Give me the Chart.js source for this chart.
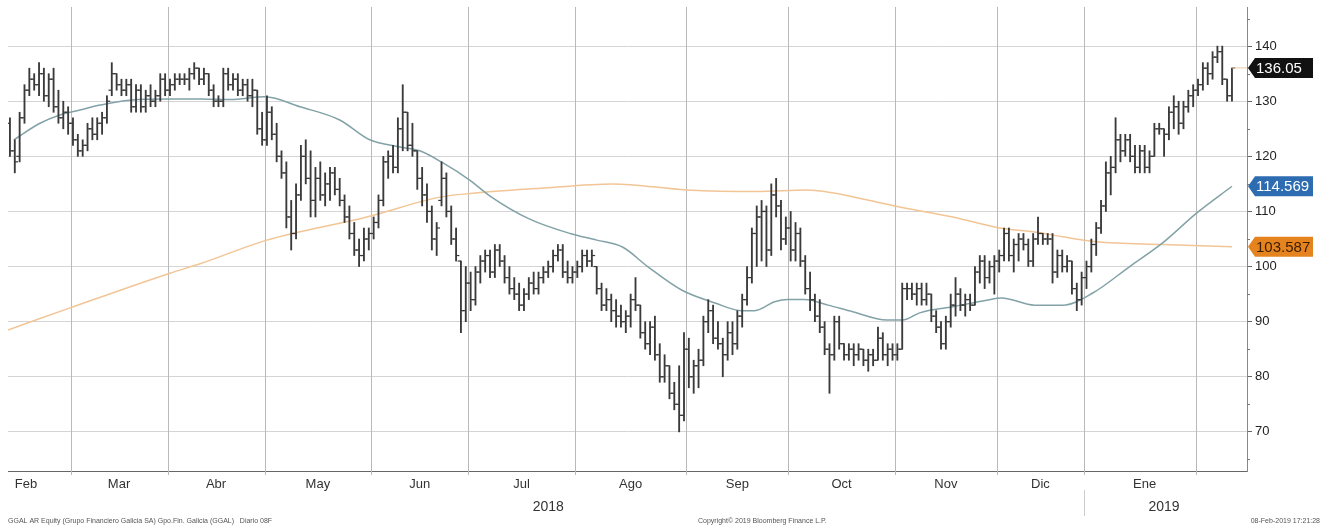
<!DOCTYPE html>
<html>
<head>
<meta charset="utf-8">
<script src="https://cdn.jsdelivr.net/npm/chart.js@4.4.1/dist/chart.umd.min.js"></script>
<style>
  html, body { margin: 0; padding: 0; background: #fff; }
  #wrap { width: 1324px; height: 532px; }
</style>
</head>
<body>
<div id="wrap"><canvas id="chart" width="1324" height="532"></canvas></div>
<script>
// daily OHLC, one row per month (Feb 2018 .. Feb 2019)
const opens = [
  126,121,120,127,132,134,133,135,131,134,129,127,128,
  126,123,121,122,125,124,126,127,132,135,133,132,133,129,132,129,131,130,131,134,
  132,133,134,134,134,135,136,134,135,132,130,130,135,133,134,132,133,131,132,125,
  123,128,124,120,117,109,106,113,120,116,112,116,113,115,117,114,112,109,106,103,102,105,
  106,108,112,119,120,118,125,128,122,121,116,113,110,105,112,116,110,105,101,92,
  97,94,99,101,102,99,103,101,98,96,95,93,95,97,96,98,99,100,102,103,99,98,
  99,100,102,101,100,96,93,94,92,91,90,91,94,93,88,86,89,84,80,82,77,75,73,
  85,80,82,83,90,92,87,86,84,88,86,91,94,98,106,109,110,103,113,111,105,
  107,103,106,101,96,94,91,89,85,84,90,86,84,85,84,85,83,84,83,87,84,85,
  84,85,96,96,95,96,94,95,91,89,86,90,93,95,93,94,93,99,101,98,100,
  101,102,106,102,104,105,104,101,105,106,105,105,99,102,100,101,96,94,
  98,100,104,107,111,117,118,123,121,123,120,118,121,118,120,125,125,124,128,129,126,129,131,
  132,133,136,135,138,139,134,131
];
const highs = [
  127,123,128,133,136,135,137,136,135,136,132,130,129,
  127,124,123,126,127,127,128,131,137,135,134,134,134,133,133,132,133,132,135,135,
  134,135,135,135,136,137,136,136,135,133,131,136,136,135,135,134,134,134,132,128,
  131,129,126,121,119,112,115,122,123,121,118,119,117,118,118,116,113,111,108,105,107,107,
  109,113,120,121,122,127,133,128,126,121,118,115,111,108,119,117,111,107,101,100,
  99,100,102,103,103,104,104,102,100,98,97,96,98,99,99,100,101,103,104,104,101,100,
  101,103,103,103,100,97,96,95,94,93,92,95,98,93,90,90,91,86,84,82,79,82,88,
  87,83,85,91,94,93,90,87,90,90,92,95,100,107,111,112,111,115,116,112,109,
  110,108,107,102,99,95,94,90,86,91,91,86,86,86,86,85,85,85,89,88,86,86,
  86,97,97,97,97,97,97,95,92,90,91,95,98,96,95,95,100,102,102,101,102,
  103,107,107,105,106,106,105,106,109,106,106,106,103,103,102,101,97,99,
  101,105,108,112,119,120,127,124,124,124,122,122,122,121,126,126,125,129,131,130,130,132,133,
  134,137,137,139,140,140,134,136
];
const lows = [
  120,117,119,126,131,132,131,130,129,128,126,125,124,
  122,120,120,121,123,123,124,126,131,132,131,131,128,128,128,128,129,129,130,131,
  131,132,133,133,132,134,133,133,131,129,129,129,132,132,131,131,130,129,124,122,
  122,123,119,116,107,103,105,112,115,109,109,112,111,112,113,111,108,105,102,100,101,103,
  105,107,111,116,117,117,121,121,120,114,111,108,103,102,111,109,104,101,88,90,
  92,93,97,99,98,98,100,97,95,94,92,92,94,95,95,97,98,99,101,98,97,97,
  98,99,100,100,95,92,92,90,89,89,88,89,92,87,85,84,83,79,79,76,74,70,72,
  78,77,78,82,88,86,85,80,83,84,85,89,93,97,100,101,100,102,109,103,104,
  101,101,100,95,92,90,88,84,77,83,85,83,83,82,83,82,81,82,83,83,82,83,
  83,85,94,94,93,93,93,90,88,85,85,89,91,92,91,92,93,97,96,97,95,
  99,101,101,99,101,103,100,100,104,104,104,97,98,99,99,95,92,93,
  96,99,102,106,110,113,117,119,120,119,117,117,117,117,120,124,120,123,125,124,125,128,129,
  131,132,133,134,137,133,130,130
];
const closes = [
  121,119,127,132,134,133,135,131,134,129,127,128,126,
  123,121,122,125,124,126,127,130,135,133,132,133,129,132,129,131,130,131,134,132,
  133,134,134,134,135,136,134,135,132,130,130,135,133,134,132,133,131,132,125,123,
  128,124,120,117,109,106,113,120,116,112,116,113,115,117,114,112,109,106,103,102,105,106,
  108,112,119,120,118,125,128,122,121,116,113,110,105,107,116,110,105,102,92,97,
  94,99,101,102,99,103,101,98,96,95,93,95,97,96,98,99,100,102,103,99,98,99,
  100,102,101,102,96,93,94,92,91,90,91,94,93,88,86,89,84,80,82,77,75,73,85,
  80,82,83,90,92,87,86,84,88,86,91,94,98,106,109,110,103,113,111,105,107,
  103,106,101,96,94,91,89,85,84,90,86,84,85,84,85,83,84,83,87,84,85,84,
  85,96,96,95,96,94,95,91,89,86,90,93,95,93,94,93,99,101,98,100,101,
  102,106,102,104,105,104,101,105,106,105,105,99,102,100,101,96,94,98,
  100,104,107,111,117,118,123,121,123,120,118,121,118,120,125,125,124,128,129,126,129,131,132,
  133,136,135,138,139,134,131,136.05
];

// moving averages (trading-day index, value)
const ma50Idx = [0.8, 6.2, 10.3, 14.4, 18.6, 24.7, 33, 39.2, 45.4, 52.6, 59.8, 68, 74.2, 80.4, 84.5, 89.3, 94.8, 99, 107.2, 115.5, 121, 126.4, 131.5, 138.6, 145.4, 150.9, 153.6, 157.7, 160.4, 163.9, 168.7, 173.8, 180.8, 184.1, 187.6, 194.4, 201.4, 204.5, 211.3, 217.1, 223.3, 230.9, 237.7, 244.7, 252];
const ma50Val = [123, 126, 127.5, 128.4, 129.3, 130.2, 130.4, 130.4, 130.3, 130.8, 129, 126.6, 123, 121.7, 121, 118.8, 115.7, 112.8, 108.6, 106, 104.8, 103.5, 100, 95.7, 93.4, 92, 92, 93.6, 94, 94, 93, 91.8, 90.3, 90.3, 91.6, 92.7, 93.9, 94.3, 93, 93, 95.2, 100, 104.3, 109.7, 114.569];
const ma200Idx = [-0.4, 12.4, 33, 39.2, 53, 73.6, 88.7, 95.5, 109.3, 124.3, 139.6, 154, 164.3, 177.3, 183.5, 194.4, 204.1, 211, 217.1, 224.1, 237.7, 252];
const ma200Val = [88.5, 92.5, 98.8, 100.5, 104.8, 109, 112.6, 113.3, 114.2, 115, 113.9, 113.6, 113.9, 112, 110.8, 109, 107, 106.3, 105.4, 104.5, 104, 103.587];

const monthNames = ['Feb', 'Mar', 'Abr', 'May', 'Jun', 'Jul', 'Ago', 'Sep', 'Oct', 'Nov', 'Dic', 'Ene'];
const monthMid = [3.3, 22.5, 42.5, 63.5, 84.5, 105.5, 128, 150, 171.5, 193, 212.5, 234];
const monthStarts = [12.5, 32.5, 52.5, 74.5, 94.5, 116.5, 139.5, 160.5, 182.5, 203.5, 221.5, 244.5];
const yearLabels = ['2018', '2019'];
const yearPos = [111, 238];
const yTicks = [70, 80, 90, 100, 110, 120, 130, 140];
const yMinor = [65, 75, 85, 95, 105, 115, 125, 135, 145];

const tagValues = [136.05, 114.569, 103.587];
const tagText = ['136.05', '114.569', '103.587'];
const tagFill = ['#111111', '#2d6cb0', '#e5831f'];
const tagInk = ['#ffffff', '#ffffff', '#3b1d00'];

const FONT = "'Liberation Sans', Arial, sans-serif";
const BAR = '#3a3a3a';

const decor = {
  id: 'decor',
  beforeDatasetsDraw(chart) {
    const { ctx, chartArea, scales: { x } } = chart;
    ctx.save();
    ctx.strokeStyle = '#b9b9b9';
    ctx.lineWidth = 1;
    monthStarts.forEach(v => {
      const px = Math.round(x.getPixelForValue(v)) + 0.5;
      ctx.beginPath();
      ctx.moveTo(px, chartArea.top);
      ctx.lineTo(px, chartArea.bottom + 4);
      ctx.stroke();
    });
    ctx.restore();
  },
  afterDraw(chart) {
    const { ctx, chartArea, scales: { x, y } } = chart;
    ctx.save();
    // minor ticks on the price axis
    ctx.strokeStyle = '#777';
    yMinor.forEach(v => {
      const py = Math.round(y.getPixelForValue(v)) + 0.5;
      ctx.beginPath();
      ctx.moveTo(chartArea.right, py);
      ctx.lineTo(chartArea.right + 3, py);
      ctx.stroke();
    });

    // month and year labels
    ctx.fillStyle = '#333';
    ctx.font = '13px ' + FONT;
    ctx.textAlign = 'center';
    ctx.textBaseline = 'middle';
    monthNames.forEach((m, i) => ctx.fillText(m, x.getPixelForValue(monthMid[i]), 484));
    ctx.font = '14px ' + FONT;
    yearLabels.forEach((t, i) => ctx.fillText(t, x.getPixelForValue(yearPos[i]), 507));
    ctx.strokeStyle = '#cccccc';
    const sep = Math.round(x.getPixelForValue(monthStarts[10])) + 0.5;
    ctx.beginPath();
    ctx.moveTo(sep, 490);
    ctx.lineTo(sep, 516);
    ctx.stroke();

    // footer
    ctx.fillStyle = '#555';
    ctx.font = '7px ' + FONT;
    ctx.textAlign = 'left';
    ctx.fillText('GGAL AR Equity (Grupo Financiero Galicia SA) Gpo.Fin. Galicia (GGAL)   Diario 08F', 8, 521);
    ctx.fillText('Copyright\u00a9 2019 Bloomberg Finance L.P.', 698, 521);
    ctx.textAlign = 'right';
    ctx.fillText('08-Feb-2019 17:21:28', 1320, 521);

    // last price guide
    const lastY = y.getPixelForValue(tagValues[0]);
    ctx.strokeStyle = '#ecc9a0';
    ctx.beginPath();
    ctx.moveTo(x.getPixelForValue(closes.length - 1), lastY);
    ctx.lineTo(chartArea.right, lastY);
    ctx.stroke();

    // value tags
    ctx.font = '15px ' + FONT;
    ctx.textAlign = 'left';
    tagValues.forEach((v, i) => {
      const py = y.getPixelForValue(v);
      const l = chartArea.right + 1;
      ctx.fillStyle = tagFill[i];
      ctx.beginPath();
      ctx.moveTo(l, py);
      ctx.lineTo(l + 7, py - 10);
      ctx.lineTo(1313, py - 10);
      ctx.lineTo(1313, py + 10);
      ctx.lineTo(l + 7, py + 10);
      ctx.closePath();
      ctx.fill();
      ctx.fillStyle = tagInk[i];
      ctx.fillText(tagText[i], l + 8, py + 1);
    });
    ctx.restore();
  }
};

new Chart(document.getElementById('chart'), {
  type: 'scatter',
  data: {
    datasets: [
      {
        type: 'line',
        data: ma200Idx.map((v, i) => ({ x: v, y: ma200Val[i] })),
        borderColor: '#f2c596',
        borderWidth: 1.5,
        pointRadius: 0,
        cubicInterpolationMode: 'monotone',
        order: 4
      },
      {
        type: 'line',
        data: ma50Idx.map((v, i) => ({ x: v, y: ma50Val[i] })),
        borderColor: '#82a2a8',
        borderWidth: 1.5,
        pointRadius: 0,
        cubicInterpolationMode: 'monotone',
        order: 3
      },
      {
        type: 'bar',
        data: highs.map((h, i) => ({ x: i, y: [lows[i], h] })),
        backgroundColor: BAR,
        borderWidth: 0,
        barThickness: 1.2,
        grouped: false,
        order: 1
      },
      {
        data: opens.map((o, i) => ({ x: i - 0.33, y: o })),
        pointStyle: 'line',
        pointRadius: 1.7,
        borderColor: BAR,
        borderWidth: 1.2,
        order: 1
      },
      {
        data: closes.map((c, i) => ({ x: i + 0.33, y: c })),
        pointStyle: 'line',
        pointRadius: 1.7,
        borderColor: BAR,
        borderWidth: 1.2,
        order: 1
      }
    ]
  },
  options: {
    responsive: false,
    animation: false,
    events: [],
    devicePixelRatio: 1,
    layout: { padding: { top: 7, left: 8, right: 0, bottom: 0 } },
    plugins: { legend: { display: false }, tooltip: { enabled: false } },
    scales: {
      x: {
        type: 'linear',
        min: -0.4,
        max: 255.1,
        offset: false,
        grid: { display: false },
        border: { display: true, color: '#666' },
        ticks: { display: false },
        afterFit(s) { s.height = 61; }
      },
      y: {
        position: 'right',
        min: 62.9,
        max: 147.1,
        afterBuildTicks(s) { s.ticks = yTicks.map(v => ({ value: v })); },
        grid: { color: '#d4d4d4', lineWidth: 1, tickLength: 5, tickColor: '#666' },
        border: { color: '#888' },
        ticks: { color: '#222', font: { size: 13, family: FONT }, padding: 3 },
        afterFit(s) { s.width = 77; s.paddingTop = 0; s.paddingBottom = 0; }
      }
    }
  },
  plugins: [decor]
});
</script>
</body>
</html>
